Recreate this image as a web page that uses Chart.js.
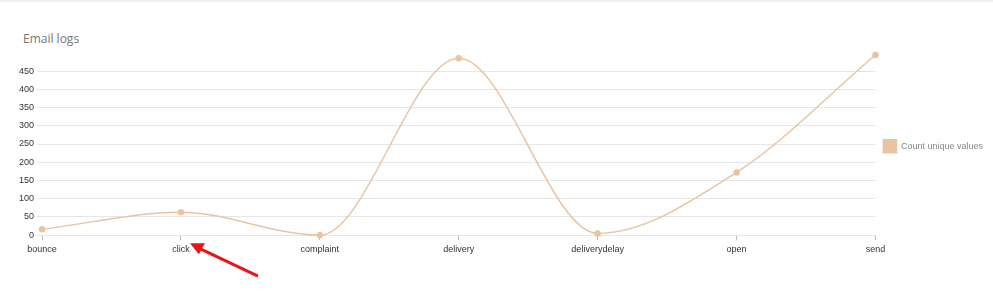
<!DOCTYPE html>
<html>
<head>
<meta charset="utf-8">
<script src="https://cdn.jsdelivr.net/npm/chart.js@4"></script>
<style>
  html, body { margin: 0; padding: 0; background: #fff; }
  .card { position: relative; width: 993px; height: 297px; border-top: 2px solid #f0f0f0; box-sizing: border-box; }
  .title { position: absolute; left: 23px; top: 28px; font-family: "Open Sans", Lato, sans-serif; font-size: 12px; color: #777; }
  .wrap { position: absolute; left: 0; top: 0; width: 993px; height: 295px; }
</style>
</head>
<body>
<div class="card">
  <div class="title">Email logs</div>
  <div class="wrap"><canvas id="myChart"></canvas></div>
</div>
<script>
const labels = ['bounce', 'click', 'complaint', 'delivery', 'deliverydelay', 'open', 'send'];
const counts = [16, 63, 0, 485, 5, 172, 494];
const seriesName = 'Count unique values';
const lineColor = 'rgb(232, 196, 160)';

// red pointer arrow under "click" (screenshot annotation)
const arrowPlugin = {
    id: 'arrow',
    afterDraw(chart) {
        const x = chart.scales.x.getPixelForValue(1);
        const y = chart.chartArea.bottom;
        const c = chart.ctx;
        c.save();
        c.strokeStyle = '#e8131b';
        c.fillStyle = '#e8131b';
        c.lineWidth = 3;
        c.beginPath();
        c.moveTo(x + 77, y + 41);
        c.lineTo(x + 20, y + 14);
        c.stroke();
        c.beginPath();
        c.moveTo(x + 9, y + 8);
        c.lineTo(x + 24, y + 8);
        c.lineTo(x + 18, y + 19);
        c.closePath();
        c.fill();
        c.restore();
    }
};

const ctx = document.getElementById('myChart').getContext('2d');
new Chart(ctx, {
    type: 'line',
    data: {
        labels: labels,
        datasets: [{
            label: seriesName,
            data: counts,
            borderColor: lineColor,
            backgroundColor: lineColor,
            borderWidth: 1.5,
            pointRadius: 2.5,
            pointBackgroundColor: lineColor,
            fill: false,
            clip: false,
            cubicInterpolationMode: 'monotone'
        }]
    },
    options: {
        responsive: true,
        maintainAspectRatio: false,
        animation: false,
        layout: { padding: { top: 53, left: 16, right: 0, bottom: 38 } },
        plugins: {
            legend: {
                position: 'right',
                align: 'start',
                title: { display: true, text: ' ', padding: { top: 66, bottom: 0 }, font: { size: 9 } },
                labels: {
                    boxWidth: 13,
                    boxHeight: 13,
                    padding: 8,
                    color: '#888',
                    font: { family: 'Liberation Sans, Arial', size: 9 }
                }
            },
            tooltip: { enabled: false }
        },
        scales: {
            x: {
                grid: { drawOnChartArea: false, color: '#bbb', tickLength: 5 },
                border: { display: false },
                ticks: { color: '#333', font: { family: 'Liberation Sans, Arial', size: 9 }, maxRotation: 0, padding: 4 }
            },
            y: {
                min: 0,
                max: Math.max(...counts),
                afterBuildTicks: (scale) => {
                    scale.ticks = scale.ticks.filter(t => t.value % 50 === 0);
                },
                ticks: { stepSize: 50, color: '#333', font: { family: 'Liberation Sans, Arial', size: 9 }, padding: 3 },
                grid: { color: '#e6e6e6', tickLength: 5 },
                border: { display: false }
            }
        }
    },
    plugins: [arrowPlugin]
});
</script>
</body>
</html>
